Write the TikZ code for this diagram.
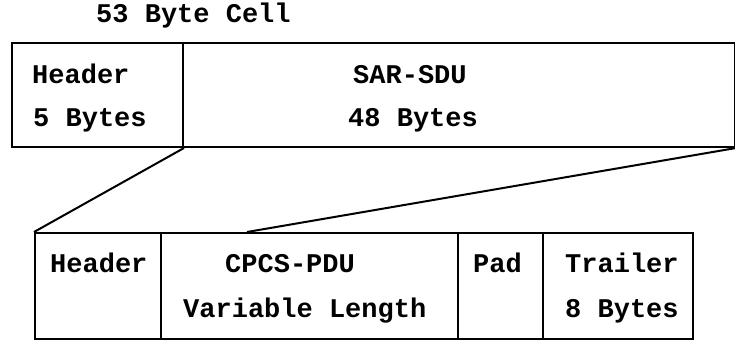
\documentclass[tikz,border=0pt]{standalone}
\usepackage{fontspec}
\setmainfont{Liberation Mono}
\begin{document}
\begin{tikzpicture}[x=1pt,y=-1pt,
  cell/.style={draw=black, line width=2pt, inner sep=0pt, anchor=north west},
  lbl/.style={inner sep=0pt, anchor=base west, font=\fontsize{27}{32}\selectfont\bfseries},
  link/.style={draw=black, line width=2pt}]
\useasboundingbox (0,0) rectangle (735,341);
% top cell
\node[cell, minimum width=171pt, minimum height=104pt] (hdr) at (11,42) {};
\node[cell, minimum width=552pt, minimum height=104pt] (sdu) at (182,42) {};
% bottom PDU
\node[cell, minimum width=126pt, minimum height=106pt] (bh) at (34,232) {};
\node[cell, minimum width=297pt, minimum height=106pt] (cpcs) at (160,232) {};
\node[cell, minimum width=85pt, minimum height=106pt] (pad) at (457,232) {};
\node[cell, minimum width=150pt, minimum height=106pt] (trl) at (542,232) {};
% labels
\node[lbl] (title) at (96,22.5) {53 Byte Cell};
\node[lbl] (h1) at (32,83.5) {Header};
\node[lbl] (h2) at (33,126.5) {5 Bytes};
\node[lbl] (s1) at (353,83.5) {SAR-SDU};
\node[lbl] (s2) at (348,126.5) {48 Bytes};
\node[lbl] (b1) at (50,272.5) {Header};
\node[lbl] (c1) at (225,272.5) {CPCS-PDU};
\node[lbl] (c2) at (183,317.5) {Variable Length};
\node[lbl] (p1) at (473,272.5) {Pad};
\node[lbl] (t1) at (565,272.5) {Trailer};
\node[lbl] (t2) at (565,317.5) {8 Bytes};
% connectors
\coordinate (e) at (247,232);
\draw[link] (hdr.south east) -- (bh.north west);
\draw[link] (sdu.south east) -- (e);
\end{tikzpicture}
\end{document}
